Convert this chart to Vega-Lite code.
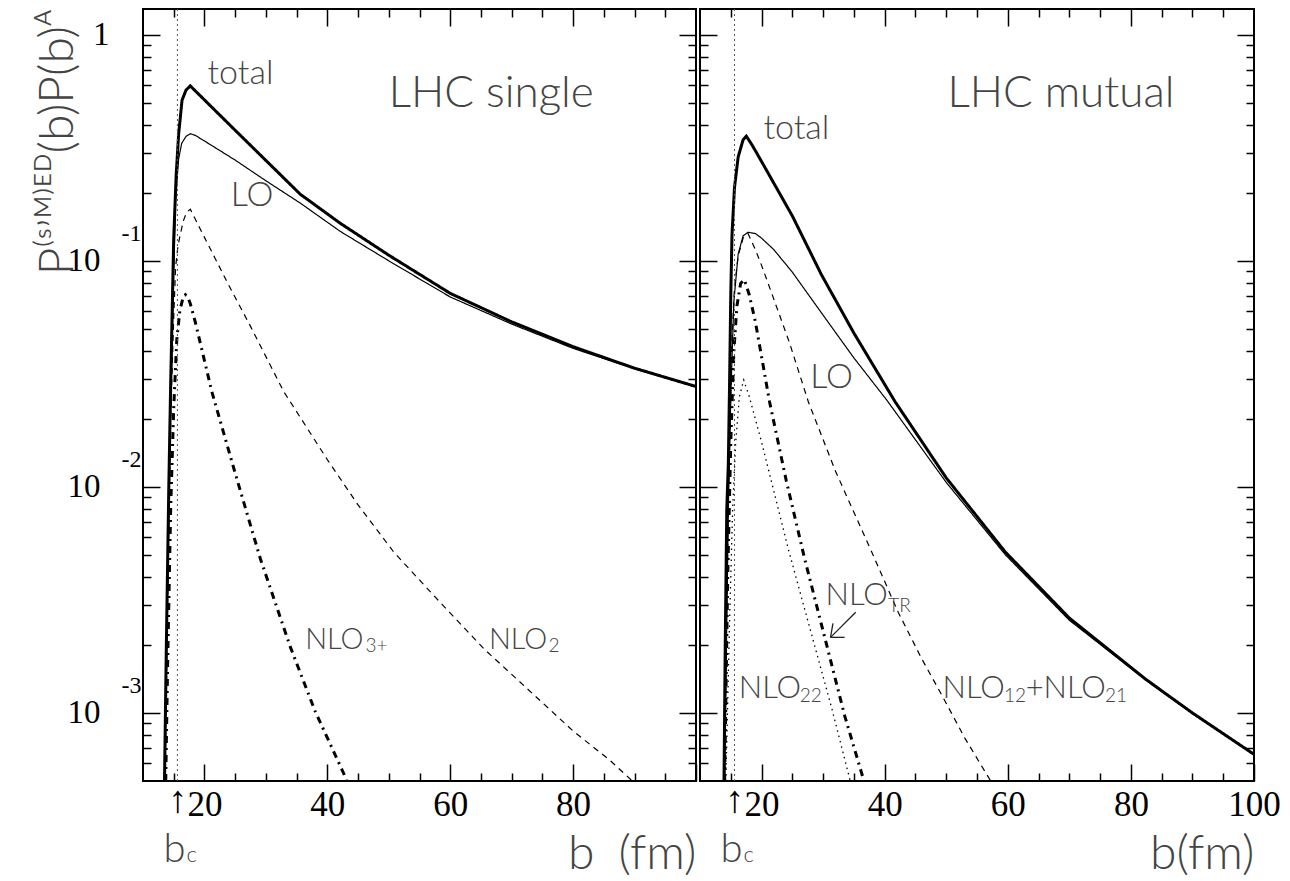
{
  "$schema": "https://vega.github.io/schema/vega-lite/v6.json",
  "padding": {"left": 32, "top": 7, "right": 5, "bottom": 5},
  "spacing": 0,
  "datasets": {
    "curves": [
      {"panel":"single","series":"total","b":13.5,"p":0.0005},
      {"panel":"single","series":"total","b":13.8,"p":0.002},
      {"panel":"single","series":"total","b":14.2,"p":0.01},
      {"panel":"single","series":"total","b":14.5,"p":0.0282},
      {"panel":"single","series":"total","b":15.0,"p":0.126},
      {"panel":"single","series":"total","b":15.4,"p":0.24},
      {"panel":"single","series":"total","b":15.8,"p":0.363},
      {"panel":"single","series":"total","b":16.35,"p":0.513},
      {"panel":"single","series":"total","b":17.0,"p":0.569},
      {"panel":"single","series":"total","b":17.7,"p":0.594},
      {"panel":"single","series":"total","b":18.5,"p":0.565},
      {"panel":"single","series":"total","b":20,"p":0.515},
      {"panel":"single","series":"total","b":25,"p":0.378},
      {"panel":"single","series":"total","b":30,"p":0.278},
      {"panel":"single","series":"total","b":35.6,"p":0.197},
      {"panel":"single","series":"total","b":42.1,"p":0.1466},
      {"panel":"single","series":"total","b":50,"p":0.1059},
      {"panel":"single","series":"total","b":60,"p":0.0718},
      {"panel":"single","series":"total","b":70,"p":0.0537},
      {"panel":"single","series":"total","b":80,"p":0.0417},
      {"panel":"single","series":"total","b":90,"p":0.0335},
      {"panel":"single","series":"total","b":100,"p":0.0278},

      {"panel":"single","series":"LO","b":13.5,"p":0.0005},
      {"panel":"single","series":"LO","b":13.8,"p":0.00166},
      {"panel":"single","series":"LO","b":14.2,"p":0.00794},
      {"panel":"single","series":"LO","b":14.5,"p":0.0219},
      {"panel":"single","series":"LO","b":15.0,"p":0.0891},
      {"panel":"single","series":"LO","b":15.3,"p":0.186},
      {"panel":"single","series":"LO","b":15.8,"p":0.282},
      {"panel":"single","series":"LO","b":16.3,"p":0.331},
      {"panel":"single","series":"LO","b":17.0,"p":0.355},
      {"panel":"single","series":"LO","b":17.7,"p":0.365},
      {"panel":"single","series":"LO","b":18.5,"p":0.359},
      {"panel":"single","series":"LO","b":20,"p":0.339},
      {"panel":"single","series":"LO","b":25,"p":0.279},
      {"panel":"single","series":"LO","b":30,"p":0.226},
      {"panel":"single","series":"LO","b":35.6,"p":0.18},
      {"panel":"single","series":"LO","b":42.1,"p":0.135},
      {"panel":"single","series":"LO","b":50,"p":0.1},
      {"panel":"single","series":"LO","b":60,"p":0.0692},
      {"panel":"single","series":"LO","b":70,"p":0.0525},
      {"panel":"single","series":"LO","b":80,"p":0.041},
      {"panel":"single","series":"LO","b":90,"p":0.0333},
      {"panel":"single","series":"LO","b":100,"p":0.0277},

      {"panel":"single","series":"NLO2","b":13.6,"p":0.0005},
      {"panel":"single","series":"NLO2","b":14.0,"p":0.00316},
      {"panel":"single","series":"NLO2","b":14.5,"p":0.02},
      {"panel":"single","series":"NLO2","b":15.0,"p":0.0562},
      {"panel":"single","series":"NLO2","b":15.3,"p":0.0933},
      {"panel":"single","series":"NLO2","b":15.7,"p":0.117},
      {"panel":"single","series":"NLO2","b":16.1,"p":0.132},
      {"panel":"single","series":"NLO2","b":16.6,"p":0.151},
      {"panel":"single","series":"NLO2","b":17.1,"p":0.164},
      {"panel":"single","series":"NLO2","b":17.7,"p":0.169},
      {"panel":"single","series":"NLO2","b":18.5,"p":0.153},
      {"panel":"single","series":"NLO2","b":20,"p":0.127},
      {"panel":"single","series":"NLO2","b":24,"p":0.0776},
      {"panel":"single","series":"NLO2","b":27.5,"p":0.0513},
      {"panel":"single","series":"NLO2","b":32.9,"p":0.0264},
      {"panel":"single","series":"NLO2","b":40,"p":0.0132},
      {"panel":"single","series":"NLO2","b":45,"p":0.00832},
      {"panel":"single","series":"NLO2","b":50.8,"p":0.00515},
      {"panel":"single","series":"NLO2","b":58,"p":0.00316},
      {"panel":"single","series":"NLO2","b":65.5,"p":0.00192},
      {"panel":"single","series":"NLO2","b":72,"p":0.00132},
      {"panel":"single","series":"NLO2","b":80,"p":0.000832},
      {"panel":"single","series":"NLO2","b":86,"p":0.000617},
      {"panel":"single","series":"NLO2","b":89.6,"p":0.000501},

      {"panel":"single","series":"NLO3+","b":13.7,"p":0.0005},
      {"panel":"single","series":"NLO3+","b":14.0,"p":0.00158},
      {"panel":"single","series":"NLO3+","b":14.5,"p":0.00794},
      {"panel":"single","series":"NLO3+","b":15.0,"p":0.0224},
      {"panel":"single","series":"NLO3+","b":15.5,"p":0.0447},
      {"panel":"single","series":"NLO3+","b":16.0,"p":0.0603},
      {"panel":"single","series":"NLO3+","b":16.5,"p":0.0684},
      {"panel":"single","series":"NLO3+","b":16.9,"p":0.0708},
      {"panel":"single","series":"NLO3+","b":17.3,"p":0.0692},
      {"panel":"single","series":"NLO3+","b":17.7,"p":0.0646},
      {"panel":"single","series":"NLO3+","b":18.5,"p":0.0537},
      {"panel":"single","series":"NLO3+","b":21.2,"p":0.0264},
      {"panel":"single","series":"NLO3+","b":25,"p":0.0115},
      {"panel":"single","series":"NLO3+","b":29.1,"p":0.00481},
      {"panel":"single","series":"NLO3+","b":34,"p":0.00195},
      {"panel":"single","series":"NLO3+","b":38,"p":0.00102},
      {"panel":"single","series":"NLO3+","b":42.7,"p":0.000537},
      {"panel":"single","series":"NLO3+","b":43.1,"p":0.000501},

      {"panel":"mutual","series":"total","b":13.9,"p":0.0005},
      {"panel":"mutual","series":"total","b":14.1,"p":0.002},
      {"panel":"mutual","series":"total","b":14.35,"p":0.00794},
      {"panel":"mutual","series":"total","b":14.6,"p":0.0126},
      {"panel":"mutual","series":"total","b":14.8,"p":0.0282},
      {"panel":"mutual","series":"total","b":15.0,"p":0.0708},
      {"panel":"mutual","series":"total","b":15.2,"p":0.1306},
      {"panel":"mutual","series":"total","b":15.6,"p":0.2104},
      {"panel":"mutual","series":"total","b":16.2,"p":0.288},
      {"panel":"mutual","series":"total","b":17.0,"p":0.343},
      {"panel":"mutual","series":"total","b":17.52,"p":0.356},
      {"panel":"mutual","series":"total","b":18.5,"p":0.324},
      {"panel":"mutual","series":"total","b":20,"p":0.275},
      {"panel":"mutual","series":"total","b":25,"p":0.158},
      {"panel":"mutual","series":"total","b":29.7,"p":0.0871},
      {"panel":"mutual","series":"total","b":35,"p":0.0479},
      {"panel":"mutual","series":"total","b":41.7,"p":0.0238},
      {"panel":"mutual","series":"total","b":50,"p":0.01096},
      {"panel":"mutual","series":"total","b":59.6,"p":0.00515},
      {"panel":"mutual","series":"total","b":70,"p":0.00263},
      {"panel":"mutual","series":"total","b":82.4,"p":0.00141},
      {"panel":"mutual","series":"total","b":90,"p":0.001},
      {"panel":"mutual","series":"total","b":100,"p":0.000656},

      {"panel":"mutual","series":"LO","b":14.0,"p":0.0005},
      {"panel":"mutual","series":"LO","b":14.3,"p":0.002},
      {"panel":"mutual","series":"LO","b":14.6,"p":0.00794},
      {"panel":"mutual","series":"LO","b":15.0,"p":0.0251},
      {"panel":"mutual","series":"LO","b":15.5,"p":0.0661},
      {"panel":"mutual","series":"LO","b":16.2,"p":0.107},
      {"panel":"mutual","series":"LO","b":17.0,"p":0.129},
      {"panel":"mutual","series":"LO","b":17.8,"p":0.1337},
      {"panel":"mutual","series":"LO","b":19,"p":0.132},
      {"panel":"mutual","series":"LO","b":20,"p":0.126},
      {"panel":"mutual","series":"LO","b":22,"p":0.112},
      {"panel":"mutual","series":"LO","b":25,"p":0.0891},
      {"panel":"mutual","series":"LO","b":30,"p":0.0575},
      {"panel":"mutual","series":"LO","b":35,"p":0.0372},
      {"panel":"mutual","series":"LO","b":40.3,"p":0.0243},
      {"panel":"mutual","series":"LO","b":50,"p":0.01047},
      {"panel":"mutual","series":"LO","b":59.6,"p":0.00501},
      {"panel":"mutual","series":"LO","b":70,"p":0.00257},
      {"panel":"mutual","series":"LO","b":82.4,"p":0.0014},
      {"panel":"mutual","series":"LO","b":90,"p":0.000993},
      {"panel":"mutual","series":"LO","b":100,"p":0.000653},

      {"panel":"mutual","series":"NLO12+NLO21","b":14.0,"p":0.0005},
      {"panel":"mutual","series":"NLO12+NLO21","b":14.3,"p":0.00251},
      {"panel":"mutual","series":"NLO12+NLO21","b":14.7,"p":0.0112},
      {"panel":"mutual","series":"NLO12+NLO21","b":15.2,"p":0.0447},
      {"panel":"mutual","series":"NLO12+NLO21","b":15.6,"p":0.0759},
      {"panel":"mutual","series":"NLO12+NLO21","b":16.2,"p":0.105},
      {"panel":"mutual","series":"NLO12+NLO21","b":17.0,"p":0.126},
      {"panel":"mutual","series":"NLO12+NLO21","b":17.8,"p":0.132},
      {"panel":"mutual","series":"NLO12+NLO21","b":19,"p":0.112},
      {"panel":"mutual","series":"NLO12+NLO21","b":20,"p":0.0955},
      {"panel":"mutual","series":"NLO12+NLO21","b":22,"p":0.0676},
      {"panel":"mutual","series":"NLO12+NLO21","b":24.5,"p":0.0437},
      {"panel":"mutual","series":"NLO12+NLO21","b":27.6,"p":0.0238},
      {"panel":"mutual","series":"NLO12+NLO21","b":32,"p":0.01175},
      {"panel":"mutual","series":"NLO12+NLO21","b":37.9,"p":0.00515},
      {"panel":"mutual","series":"NLO12+NLO21","b":42.2,"p":0.00279},
      {"panel":"mutual","series":"NLO12+NLO21","b":46,"p":0.00174},
      {"panel":"mutual","series":"NLO12+NLO21","b":49.5,"p":0.00117},
      {"panel":"mutual","series":"NLO12+NLO21","b":53,"p":0.000776},
      {"panel":"mutual","series":"NLO12+NLO21","b":57.2,"p":0.000501},

      {"panel":"mutual","series":"NLO_TR","b":14.0,"p":0.0005},
      {"panel":"mutual","series":"NLO_TR","b":14.5,"p":0.00398},
      {"panel":"mutual","series":"NLO_TR","b":15.0,"p":0.0158},
      {"panel":"mutual","series":"NLO_TR","b":15.5,"p":0.0398},
      {"panel":"mutual","series":"NLO_TR","b":16.0,"p":0.0631},
      {"panel":"mutual","series":"NLO_TR","b":16.6,"p":0.0794},
      {"panel":"mutual","series":"NLO_TR","b":17.2,"p":0.0826},
      {"panel":"mutual","series":"NLO_TR","b":18.0,"p":0.0708},
      {"panel":"mutual","series":"NLO_TR","b":19.0,"p":0.0537},
      {"panel":"mutual","series":"NLO_TR","b":21.3,"p":0.0238},
      {"panel":"mutual","series":"NLO_TR","b":24,"p":0.0107},
      {"panel":"mutual","series":"NLO_TR","b":27,"p":0.00481},
      {"panel":"mutual","series":"NLO_TR","b":30.3,"p":0.00214},
      {"panel":"mutual","series":"NLO_TR","b":33.5,"p":0.000973},
      {"panel":"mutual","series":"NLO_TR","b":36.3,"p":0.000537},
      {"panel":"mutual","series":"NLO_TR","b":36.6,"p":0.000501},

      {"panel":"mutual","series":"NLO22","b":14.2,"p":0.0005},
      {"panel":"mutual","series":"NLO22","b":14.8,"p":0.00251},
      {"panel":"mutual","series":"NLO22","b":15.3,"p":0.00794},
      {"panel":"mutual","series":"NLO22","b":15.8,"p":0.0158},
      {"panel":"mutual","series":"NLO22","b":16.4,"p":0.0251},
      {"panel":"mutual","series":"NLO22","b":17.1,"p":0.0297},
      {"panel":"mutual","series":"NLO22","b":18,"p":0.0251},
      {"panel":"mutual","series":"NLO22","b":20,"p":0.0158},
      {"panel":"mutual","series":"NLO22","b":24.3,"p":0.00537},
      {"panel":"mutual","series":"NLO22","b":27,"p":0.00288},
      {"panel":"mutual","series":"NLO22","b":31.4,"p":0.00105},
      {"panel":"mutual","series":"NLO22","b":34.4,"p":0.000501}
    ],
    "ann": [
      {"panel":"single","text":"total","b":20.5,"p":0.604},
      {"panel":"single","text":"LO","b":24.3,"p":0.1745},
      {"panel":"mutual","text":"total","b":20.3,"p":0.346},
      {"panel":"mutual","text":"LO","b":27.9,"p":0.0273}
    ],
    "nlo": [
      {"panel":"single","text":"NLO","b":36.4,"p":0.00192},
      {"panel":"single","text":"NLO","b":66.3,"p":0.00192},
      {"panel":"mutual","text":"NLO","b":30.4,"p":0.00299},
      {"panel":"mutual","text":"NLO","b":16.3,"p":0.00117},
      {"panel":"mutual","text":"NLO","b":49.4,"p":0.00117},
      {"panel":"mutual","text":"+NLO","b":62.9,"p":0.00117}
    ],
    "subs": [
      {"panel":"single","text":"3+","b":46.2,"p":0.001855},
      {"panel":"single","text":"2","b":76.0,"p":0.001855},
      {"panel":"mutual","text":"TR","b":40.6,"p":0.00279},
      {"panel":"mutual","text":"22","b":26.2,"p":0.001113},
      {"panel":"mutual","text":"12","b":59.4,"p":0.001113},
      {"panel":"mutual","text":"21","b":75.8,"p":0.001113}
    ],
    "titles": [
      {"panel":"single","text":"LHC single","b":50.0,"p":0.48},
      {"panel":"mutual","text":"LHC mutual","b":50.2,"p":0.48}
    ],
    "arrow": [
      {"panel":"mutual","b":35.3,"p":0.00279,"b2":31.2,"p2":0.00216},
      {"panel":"mutual","b":31.2,"p":0.00216,"b2":33.5,"p2":0.00216},
      {"panel":"mutual","b":31.2,"p":0.00216,"b2":31.6,"p2":0.00249}
    ],
    "bc": [
      {"panel":"single","b":15.6,"p":0.0005},
      {"panel":"mutual","b":15.6,"p":0.0005}
    ]
  },
  "hconcat": [
    {
      "width": 553,
      "height": 772,
      "resolve": {"axis": {"x": "independent", "y": "independent"}},
      "layer": [
        {
          "data": {"name": "curves"},
          "transform": [{"filter": "datum.panel == 'single'"}],
          "mark": {"type": "line", "clip": true, "color": "black"},
          "encoding": {
            "x": {"field": "b", "type": "quantitative",
              "scale": {"domain": [10, 100], "nice": false, "zero": false},
              "axis": {"orient": "bottom", "offset": -17, "tickSize": 17, "values": [20,40,60,80,100],
                "labelExpr": "datum.value < 100 ? datum.label : ''",
                "labelPadding": 6, "labelFontSize": 35,
                "title": "b\u2002(fm)", "titleAnchor": "end", "titleFontSize": 48, "titlePadding": 8}},
            "y": {"field": "p", "type": "quantitative",
              "scale": {"type": "log", "domain": [0.0005, 1.3], "nice": false},
              "axis": {"orient": "left", "offset": -17, "tickSize": 17, "values": [0.001,0.01,0.1,1],
                "labelExpr": "datum.value == 1 ? '1' : '10'",
                "labelPadding": {"condition": {"test": "datum.value == 1", "value": 34}, "value": 43},
                "labelFontSize": 33,
                "title": "P⁽ˢʼᴹ⁾ᴱᴰ(b)P(b)ᴬ", "titleAnchor": "end", "titleFontSize": 48, "titlePadding": -15}},
            "detail": {"field": "series"},
            "strokeWidth": {"field": "series", "type": "nominal", "legend": null,
              "scale": {"type": "ordinal", "domain": ["total","LO","NLO2","NLO3+","NLO12+NLO21","NLO_TR","NLO22"], "range": [3,1.2,1.2,3,1.2,3,1.3]}},
            "strokeDash": {"field": "series", "type": "nominal", "legend": null,
              "scale": {"domain": ["total","LO","NLO2","NLO3+","NLO12+NLO21","NLO_TR","NLO22"], "range": [[1,0],[1,0],[6,5],[7,5,2,5],[6,5],[7,5,2,5],[1.5,4]]}}
          }
        },
        {
          "data": {"name": "curves"},
          "transform": [{"filter": "datum.panel == 'single'"}],
          "mark": {"type": "line", "opacity": 0},
          "encoding": {
            "x": {"field": "b", "type": "quantitative",
              "axis": {"orient": "bottom", "offset": -8, "tickSize": 8, "values": [15,25,30,35,45,50,55,65,70,75,85,90,95], "labels": false, "title": null}},
            "y": {"field": "p", "type": "quantitative",
              "axis": {"orient": "left", "offset": -8, "tickSize": 8, "labels": false, "title": null,
                "values": [0.0006,0.0007,0.0008,0.0009,0.002,0.003,0.004,0.005,0.006,0.007,0.008,0.009,0.02,0.03,0.04,0.05,0.06,0.07,0.08,0.09,0.2,0.3,0.4,0.5,0.6,0.7,0.8,0.9]}}
          }
        },
        {
          "data": {"name": "curves"},
          "transform": [{"filter": "datum.panel == 'single'"}],
          "mark": {"type": "line", "opacity": 0},
          "encoding": {
            "x": {"field": "b", "type": "quantitative",
              "axis": {"orient": "top", "offset": -17, "tickSize": 17, "values": [20,40,60,80], "labels": false, "title": null}},
            "y": {"field": "p", "type": "quantitative",
              "axis": {"orient": "right", "offset": -17, "tickSize": 17, "values": [0.001,0.01,0.1,1], "labels": false, "title": null}}
          }
        },
        {
          "data": {"name": "curves"},
          "transform": [{"filter": "datum.panel == 'single'"}],
          "mark": {"type": "line", "opacity": 0},
          "encoding": {
            "x": {"field": "b", "type": "quantitative",
              "axis": {"orient": "top", "offset": -8, "tickSize": 8, "values": [15,25,30,35,45,50,55,65,70,75,85,90,95], "labels": false, "title": null}},
            "y": {"field": "p", "type": "quantitative",
              "axis": {"orient": "right", "offset": -8, "tickSize": 8, "labels": false, "title": null,
                "values": [0.0006,0.0007,0.0008,0.0009,0.002,0.003,0.004,0.005,0.006,0.007,0.008,0.009,0.02,0.03,0.04,0.05,0.06,0.07,0.08,0.09,0.2,0.3,0.4,0.5,0.6,0.7,0.8,0.9]}}
          }
        },
        {
          "data": {"name": "curves"},
          "transform": [{"filter": "datum.panel == 'single'"}],
          "mark": {"type": "line", "opacity": 0},
          "encoding": {
            "x": {"field": "b", "type": "quantitative", "axis": null},
            "y": {"field": "p", "type": "quantitative",
              "axis": {"orient": "left", "values": [0.001,0.01,0.1], "ticks": false, "title": null,
                "labelExpr": "datum.value == 0.1 ? '-1' : (datum.value == 0.01 ? '-2' : '-3')",
                "labelFontSize": 24, "labelPadding": 2, "labelOffset": -27}}
          }
        },
        {
          "data": {"name": "bc"},
          "transform": [{"filter": "datum.panel == 'single'"}],
          "mark": {"type": "rule", "color": "#555", "strokeWidth": 1, "strokeDash": [2, 3]},
          "encoding": {"x": {"field": "b", "type": "quantitative", "axis": null}}
        },
        {
          "data": {"name": "bc"},
          "transform": [{"filter": "datum.panel == 'single'"}],
          "mark": {"type": "text", "text": "↑", "font": "Liberation Serif", "fontSize": 38, "baseline": "top", "align": "center", "dy": 1, "color": "black"},
          "encoding": {"x": {"field": "b", "type": "quantitative", "axis": null}, "y": {"field": "p", "type": "quantitative", "axis": null}}
        },
        {
          "data": {"name": "bc"},
          "transform": [{"filter": "datum.panel == 'single'"}],
          "mark": {"type": "text", "text": "b", "font": "Lato", "fontWeight": 300, "fontSize": 40, "baseline": "alphabetic", "align": "left", "dx": -14, "dy": 81, "color": "#444"},
          "encoding": {"x": {"field": "b", "type": "quantitative", "axis": null}, "y": {"field": "p", "type": "quantitative", "axis": null}}
        },
        {
          "data": {"name": "bc"},
          "transform": [{"filter": "datum.panel == 'single'"}],
          "mark": {"type": "text", "text": "c", "font": "Lato", "fontWeight": 300, "fontSize": 22, "baseline": "alphabetic", "align": "left", "dx": 9, "dy": 81, "color": "#444"},
          "encoding": {"x": {"field": "b", "type": "quantitative", "axis": null}, "y": {"field": "p", "type": "quantitative", "axis": null}}
        },
        {
          "data": {"name": "ann"},
          "transform": [{"filter": "datum.panel == 'single'"}],
          "mark": {"type": "text", "font": "Lato", "fontWeight": 300, "fontSize": 34, "align": "left", "baseline": "alphabetic", "color": "#444"},
          "encoding": {"x": {"field": "b", "type": "quantitative", "axis": null}, "y": {"field": "p", "type": "quantitative", "axis": null}, "text": {"field": "text"}}
        },
        {
          "data": {"name": "nlo"},
          "transform": [{"filter": "datum.panel == 'single'"}],
          "mark": {"type": "text", "font": "Lato", "fontWeight": 300, "fontSize": 29, "align": "left", "baseline": "alphabetic", "color": "#444"},
          "encoding": {"x": {"field": "b", "type": "quantitative", "axis": null}, "y": {"field": "p", "type": "quantitative", "axis": null}, "text": {"field": "text"}}
        },
        {
          "data": {"name": "subs"},
          "transform": [{"filter": "datum.panel == 'single'"}],
          "mark": {"type": "text", "font": "Lato", "fontWeight": 300, "fontSize": 19, "align": "left", "baseline": "alphabetic", "color": "#444"},
          "encoding": {"x": {"field": "b", "type": "quantitative", "axis": null}, "y": {"field": "p", "type": "quantitative", "axis": null}, "text": {"field": "text"}}
        },
        {
          "data": {"name": "titles"},
          "transform": [{"filter": "datum.panel == 'single'"}],
          "mark": {"type": "text", "font": "Lato", "fontWeight": 300, "fontSize": 44, "align": "left", "baseline": "alphabetic", "color": "#444"},
          "encoding": {"x": {"field": "b", "type": "quantitative", "axis": null}, "y": {"field": "p", "type": "quantitative", "axis": null}, "text": {"field": "text"}}
        }
      ]
    },
    {
      "width": 554,
      "height": 772,
      "resolve": {"axis": {"x": "independent", "y": "independent"}},
      "layer": [
        {
          "data": {"name": "curves"},
          "transform": [{"filter": "datum.panel == 'mutual'"}],
          "mark": {"type": "line", "clip": true, "color": "black"},
          "encoding": {
            "x": {"field": "b", "type": "quantitative",
              "scale": {"domain": [10, 100], "nice": false, "zero": false},
              "axis": {"orient": "bottom", "offset": -17, "tickSize": 17, "values": [20,40,60,80,100],
                "labelPadding": 6, "labelFontSize": 35,
                "title": "b(fm)", "titleAnchor": "end", "titleFontSize": 48, "titlePadding": 8}},
            "y": {"field": "p", "type": "quantitative",
              "scale": {"type": "log", "domain": [0.0005, 1.3], "nice": false},
              "axis": {"orient": "left", "offset": -17, "tickSize": 17, "values": [0.001,0.01,0.1,1], "labels": false, "title": null}},
            "detail": {"field": "series"},
            "strokeWidth": {"field": "series", "type": "nominal", "legend": null,
              "scale": {"type": "ordinal", "domain": ["total","LO","NLO2","NLO3+","NLO12+NLO21","NLO_TR","NLO22"], "range": [3,1.2,1.2,3,1.2,3,1.3]}},
            "strokeDash": {"field": "series", "type": "nominal", "legend": null,
              "scale": {"domain": ["total","LO","NLO2","NLO3+","NLO12+NLO21","NLO_TR","NLO22"], "range": [[1,0],[1,0],[6,5],[7,5,2,5],[6,5],[7,5,2,5],[1.5,4]]}}
          }
        },
        {
          "data": {"name": "curves"},
          "transform": [{"filter": "datum.panel == 'mutual'"}],
          "mark": {"type": "line", "opacity": 0},
          "encoding": {
            "x": {"field": "b", "type": "quantitative",
              "axis": {"orient": "bottom", "offset": -8, "tickSize": 8, "values": [15,25,30,35,45,50,55,65,70,75,85,90,95], "labels": false, "title": null}},
            "y": {"field": "p", "type": "quantitative",
              "axis": {"orient": "left", "offset": -8, "tickSize": 8, "labels": false, "title": null,
                "values": [0.0006,0.0007,0.0008,0.0009,0.002,0.003,0.004,0.005,0.006,0.007,0.008,0.009,0.02,0.03,0.04,0.05,0.06,0.07,0.08,0.09,0.2,0.3,0.4,0.5,0.6,0.7,0.8,0.9]}}
          }
        },
        {
          "data": {"name": "curves"},
          "transform": [{"filter": "datum.panel == 'mutual'"}],
          "mark": {"type": "line", "opacity": 0},
          "encoding": {
            "x": {"field": "b", "type": "quantitative",
              "axis": {"orient": "top", "offset": -17, "tickSize": 17, "values": [20,40,60,80], "labels": false, "title": null}},
            "y": {"field": "p", "type": "quantitative",
              "axis": {"orient": "right", "offset": -17, "tickSize": 17, "values": [0.001,0.01,0.1,1], "labels": false, "title": null}}
          }
        },
        {
          "data": {"name": "curves"},
          "transform": [{"filter": "datum.panel == 'mutual'"}],
          "mark": {"type": "line", "opacity": 0},
          "encoding": {
            "x": {"field": "b", "type": "quantitative",
              "axis": {"orient": "top", "offset": -8, "tickSize": 8, "values": [15,25,30,35,45,50,55,65,70,75,85,90,95], "labels": false, "title": null}},
            "y": {"field": "p", "type": "quantitative",
              "axis": {"orient": "right", "offset": -8, "tickSize": 8, "labels": false, "title": null,
                "values": [0.0006,0.0007,0.0008,0.0009,0.002,0.003,0.004,0.005,0.006,0.007,0.008,0.009,0.02,0.03,0.04,0.05,0.06,0.07,0.08,0.09,0.2,0.3,0.4,0.5,0.6,0.7,0.8,0.9]}}
          }
        },
        {
          "data": {"name": "bc"},
          "transform": [{"filter": "datum.panel == 'mutual'"}],
          "mark": {"type": "rule", "color": "#555", "strokeWidth": 1, "strokeDash": [2, 3]},
          "encoding": {"x": {"field": "b", "type": "quantitative", "axis": null}}
        },
        {
          "data": {"name": "bc"},
          "transform": [{"filter": "datum.panel == 'mutual'"}],
          "mark": {"type": "text", "text": "↑", "font": "Liberation Serif", "fontSize": 38, "baseline": "top", "align": "center", "dy": 1, "color": "black"},
          "encoding": {"x": {"field": "b", "type": "quantitative", "axis": null}, "y": {"field": "p", "type": "quantitative", "axis": null}}
        },
        {
          "data": {"name": "bc"},
          "transform": [{"filter": "datum.panel == 'mutual'"}],
          "mark": {"type": "text", "text": "b", "font": "Lato", "fontWeight": 300, "fontSize": 40, "baseline": "alphabetic", "align": "left", "dx": -14, "dy": 81, "color": "#444"},
          "encoding": {"x": {"field": "b", "type": "quantitative", "axis": null}, "y": {"field": "p", "type": "quantitative", "axis": null}}
        },
        {
          "data": {"name": "bc"},
          "transform": [{"filter": "datum.panel == 'mutual'"}],
          "mark": {"type": "text", "text": "c", "font": "Lato", "fontWeight": 300, "fontSize": 22, "baseline": "alphabetic", "align": "left", "dx": 9, "dy": 81, "color": "#444"},
          "encoding": {"x": {"field": "b", "type": "quantitative", "axis": null}, "y": {"field": "p", "type": "quantitative", "axis": null}}
        },
        {
          "data": {"name": "ann"},
          "transform": [{"filter": "datum.panel == 'mutual'"}],
          "mark": {"type": "text", "font": "Lato", "fontWeight": 300, "fontSize": 34, "align": "left", "baseline": "alphabetic", "color": "#444"},
          "encoding": {"x": {"field": "b", "type": "quantitative", "axis": null}, "y": {"field": "p", "type": "quantitative", "axis": null}, "text": {"field": "text"}}
        },
        {
          "data": {"name": "nlo"},
          "transform": [{"filter": "datum.panel == 'mutual'"}],
          "mark": {"type": "text", "font": "Lato", "fontWeight": 300, "fontSize": 31, "align": "left", "baseline": "alphabetic", "color": "#444"},
          "encoding": {"x": {"field": "b", "type": "quantitative", "axis": null}, "y": {"field": "p", "type": "quantitative", "axis": null}, "text": {"field": "text"}}
        },
        {
          "data": {"name": "subs"},
          "transform": [{"filter": "datum.panel == 'mutual'"}],
          "mark": {"type": "text", "font": "Lato", "fontWeight": 300, "fontSize": 19, "align": "left", "baseline": "alphabetic", "color": "#444"},
          "encoding": {"x": {"field": "b", "type": "quantitative", "axis": null}, "y": {"field": "p", "type": "quantitative", "axis": null}, "text": {"field": "text"}}
        },
        {
          "data": {"name": "arrow"},
          "transform": [{"filter": "datum.panel == 'mutual'"}],
          "mark": {"type": "rule", "color": "#222", "strokeWidth": 1.3},
          "encoding": {"x": {"field": "b", "type": "quantitative", "axis": null}, "y": {"field": "p", "type": "quantitative", "axis": null},
            "x2": {"field": "b2"}, "y2": {"field": "p2"}}
        },
        {
          "data": {"name": "titles"},
          "transform": [{"filter": "datum.panel == 'mutual'"}],
          "mark": {"type": "text", "font": "Lato", "fontWeight": 300, "fontSize": 44, "align": "left", "baseline": "alphabetic", "color": "#444"},
          "encoding": {"x": {"field": "b", "type": "quantitative", "axis": null}, "y": {"field": "p", "type": "quantitative", "axis": null}, "text": {"field": "text"}}
        }
      ]
    }
  ],
  "config": {
    "view": {"stroke": "black", "strokeWidth": 2},
    "axis": {"domain": false, "grid": false, "tickColor": "black", "tickWidth": 1.5,
      "labelFont": "Liberation Serif", "labelColor": "black", "labelFlush": false, "labelOverlap": false,
      "titleFont": "Lato", "titleFontWeight": 300, "titleColor": "#444"}
  }
}
